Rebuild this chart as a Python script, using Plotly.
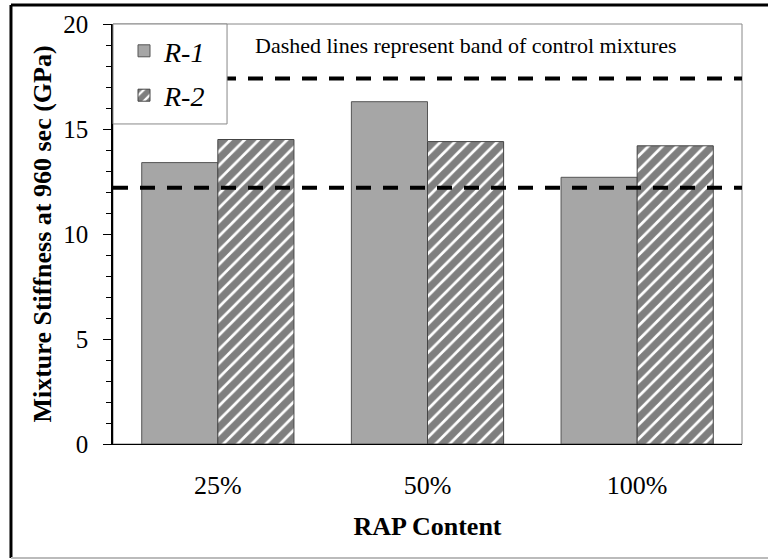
import plotly.graph_objects as go

# Mixture stiffness at 960 s by RAP content
rap_content = ["25%", "50%", "100%"]
r1_stiffness = [13.4, 16.3, 12.7]
r2_stiffness = [14.5, 14.4, 14.2]
control_band = [12.2, 17.4]  # lower / upper stiffness of control mixtures

serif = "Liberation Serif, Times New Roman, serif"

fig = go.Figure()
fig.add_trace(go.Bar(
    x=rap_content, y=r1_stiffness, name="<i>R-1</i>", legendgroup="r1",
    marker=dict(color="#a6a6a6", line=dict(color="#555555", width=1)),
))
fig.add_trace(go.Bar(
    x=rap_content, y=r2_stiffness, name="<i>R-2</i>", legendgroup="r2",
    marker=dict(color="white", line=dict(color="#444444", width=1),
                pattern=dict(shape="/", fgcolor="black", bgcolor="white",
                             size=10, solidity=0.72)),
))

# control-mixture band as dashed horizontal lines
for level in control_band:
    fig.add_shape(type="line", xref="paper", x0=0, x1=1, yref="y",
                  y0=level, y1=level,
                  line=dict(color="black", width=4, dash="15px,12px"))

# legend box (drawn over the dashed lines)
fig.add_shape(type="rect", xref="paper", yref="paper",
              x0=0, x1=0.1813, y0=0.762, y1=1,
              line=dict(color="#888888", width=1), fillcolor="white",
              layer="above")

# plot-area frame
fig.add_shape(type="rect", xref="paper", yref="paper", x0=0, x1=1, y0=0, y1=1,
              line=dict(color="#888888", width=1), layer="below")

# outer figure frame: dark top/left, light bottom
fig.add_shape(type="line", xref="paper", yref="paper",
              x0=-0.1622, x1=1.05, y0=1.045, y1=1.045,
              line=dict(color="black", width=3))
fig.add_shape(type="line", xref="paper", yref="paper",
              x0=-0.1622, x1=-0.1622, y0=-0.2714, y1=1.045,
              line=dict(color="black", width=3))
fig.add_shape(type="line", xref="paper", yref="paper",
              x0=-0.1622, x1=1.05, y0=-0.2714, y1=-0.2714,
              line=dict(color="#bbbbbb", width=2))

fig.add_annotation(text="Dashed lines represent band of control mixtures",
                   xref="paper", yref="paper", x=0.222, y=0.95,
                   xanchor="left", yanchor="middle", showarrow=False,
                   font=dict(family=serif, size=22, color="black"))

fig.update_layout(
    width=768, height=560,
    margin=dict(l=113, r=26, t=24, b=116),
    paper_bgcolor="white", plot_bgcolor="white",
    barmode="group", bargap=0.274, bargroupgap=0,
    font=dict(family=serif, color="black"),
    showlegend=True,
    legend=dict(x=0.0175, y=0.995, xanchor="left", yanchor="top",
                bgcolor="rgba(0,0,0,0)", borderwidth=0,
                font=dict(family=serif, size=28, color="black"),
                tracegroupgap=5, traceorder="grouped"),
    xaxis=dict(
        title=dict(text="<b>RAP Content</b>",
                   font=dict(family=serif, size=26, color="black"), standoff=17),
        tickfont=dict(family=serif, size=26, color="black"),
        showline=True, linecolor="black", linewidth=1,
        ticks="", ticklabelstandoff=18,
    ),
    yaxis=dict(
        title=dict(text="<b>Mixture Stiffness at 960 sec (GPa)</b>",
                   font=dict(family=serif, size=26, color="black"), standoff=4),
        range=[0, 20], dtick=5,
        tickfont=dict(family=serif, size=25, color="black"),
        showline=True, linecolor="black", linewidth=1.5,
        ticks="outside", ticklen=8, tickcolor="black",
        minor=dict(dtick=1, ticks="outside", ticklen=5, tickcolor="black"),
        showgrid=False, zeroline=False, ticklabelstandoff=10,
    ),
)

fig.write_html("out.html")
